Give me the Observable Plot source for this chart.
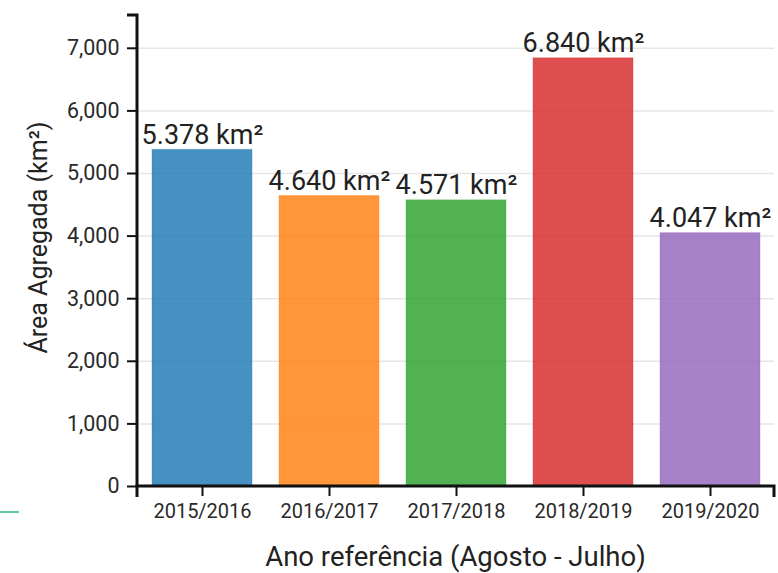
<!DOCTYPE html>
<html>
<head>
<meta charset="utf-8">
<script src="https://cdn.jsdelivr.net/npm/d3@7"></script>
<script src="https://cdn.jsdelivr.net/npm/@observablehq/plot@0.6"></script>
<style>
  html, body { margin: 0; padding: 0; background: #fff; }
  #wrap { position: relative; width: 778px; height: 573px; }
  #deco { position: absolute; left: 0; top: 511px; width: 19px; height: 2px; background: #62c79e; }
</style>
</head>
<body>
<div id="wrap"><div id="deco"></div></div>
<script>
const years = ["2015/2016", "2016/2017", "2017/2018", "2018/2019", "2019/2020"];
const areas = [5378, 4640, 4571, 6840, 4047];
const colors = ["#1f77b4", "#ff7f0e", "#2ca02c", "#d62728", "#9467bd"];
const yTicks = [0, 1000, 2000, 3000, 4000, 5000, 6000, 7000];
const xLabel = "Ano referência (Agosto - Julho)";
const yLabel = "Área Agregada (km²)";

const data = years.map((y, i) => ({year: y, value: areas[i], color: colors[i]}));
const fmtLabel = v => d3.format(",")(v).replace(/,/g, ".") + " km²";

const plot = Plot.plot({
  width: 778,
  height: 573,
  marginLeft: 137,
  marginRight: 4,
  marginTop: 15,
  marginBottom: 87,
  style: {fontFamily: "Roboto, sans-serif", background: "white", color: "#222"},
  x: {domain: years, paddingInner: 0.215, paddingOuter: 0.107, label: null},
  y: {domain: [0, 6840 * 1.1], label: null},
  marks: [
    Plot.gridY(yTicks, {stroke: "#e6e6e6", strokeOpacity: 1, strokeWidth: 1.5}),
    Plot.barY(data, {x: "year", y: "value", fill: "color", fillOpacity: 0.82, stroke: "color", strokeOpacity: 0.35, strokeWidth: 1}),
    Plot.text(data, {x: "year", y: "value", text: d => fmtLabel(d.value), lineAnchor: "bottom", dy: -6, fontSize: 27, fill: "#222"}),
    Plot.axisY(yTicks, {tickFormat: d3.format(","), tickSize: 10, tickPadding: 8, fontSize: 21.5, strokeWidth: 2, stroke: "#111", fill: "#2a2a2a", label: null}),
    Plot.axisX({tickSize: 10, tickPadding: 7, fontSize: 20, strokeWidth: 2, stroke: "#111", fill: "#2a2a2a", label: null})
  ]
});

const svg = d3.select(plot);
const xr = plot.scale("x").range;
const yr = plot.scale("y").range;
const x0 = Math.min(...xr), x1 = Math.max(...xr);
const yb = Math.max(...yr), yt = Math.min(...yr);
svg.append("path")
  .attr("d", `M${x0 - 10},${yt}H${x0}V${yb}`)
  .attr("fill", "none").attr("stroke", "#111").attr("stroke-width", 3);
svg.append("path")
  .attr("d", `M${x0},${yb + 11}V${yb}H${x1}V${yb + 11}`)
  .attr("fill", "none").attr("stroke", "#111").attr("stroke-width", 3);
svg.append("text")
  .attr("x", (x0 + x1) / 2).attr("y", 566)
  .attr("text-anchor", "middle").attr("font-size", 27.5).attr("fill", "#222")
  .text(xLabel);
svg.append("text")
  .attr("transform", `translate(47,${(yt + yb) / 2 - 13}) rotate(-90)`)
  .attr("text-anchor", "middle").attr("font-size", 25).attr("fill", "#222")
  .text(yLabel);

document.getElementById("wrap").prepend(plot);
</script>
</body>
</html>
